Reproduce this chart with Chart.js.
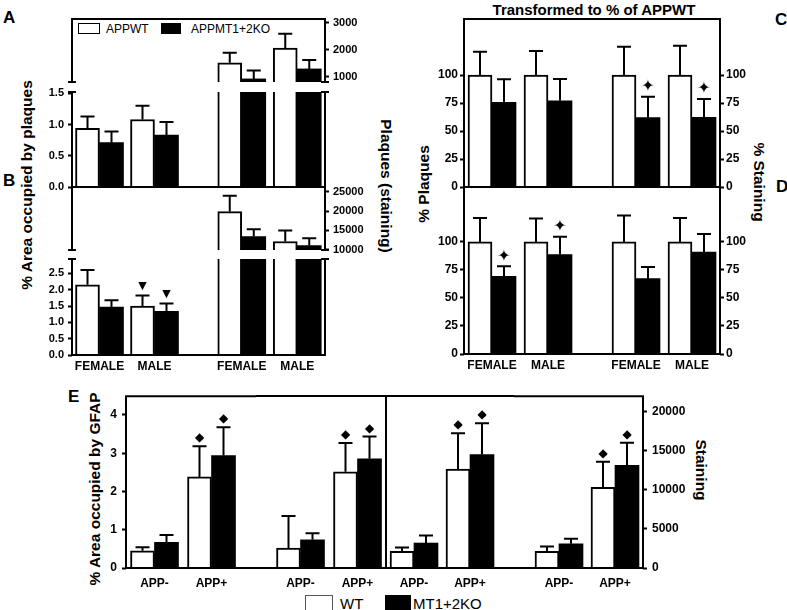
<!DOCTYPE html>
<html>
<head>
<meta charset="utf-8">
<script src="https://cdn.jsdelivr.net/npm/chart.js@4.4.1/dist/chart.umd.min.js"></script>
<style>
  body { margin: 0; background: #fff; }
  #fig { position: relative; width: 787px; height: 610px; overflow: hidden; font-family: 'Liberation Sans', Arial, sans-serif; color: #000; }
  #fig canvas { position: absolute; }
  .t { position: absolute; white-space: nowrap; line-height: 1; }
  .letter { font-weight: bold; font-size: 17px; }
  .yt { font-weight: bold; font-size: 15.5px; transform: translate(-50%, -50%) rotate(-90deg); }
  .yt.r { transform: translate(-50%, -50%) rotate(90deg); }
  .key { position: absolute; box-sizing: border-box; border: 1.5px solid #000; }
</style>
</head>
<body>
<div id="fig">
  <div class="t letter" style="left:3px;top:9px">A</div>
  <div class="t letter" style="left:3px;top:172px">B</div>
  <div class="t letter" style="left:775px;top:11px">C</div>
  <div class="t letter" style="left:776px;top:178px">D</div>
  <div class="t letter" style="left:68px;top:388px">E</div>

  <div class="t" style="left:594px;top:2px;font-weight:bold;font-size:15px;transform:translateX(-50%)">Transformed to % of APPWT</div>

  <div class="t yt" style="left:27px;top:185px">% Area occupied by plaques</div>
  <div class="t yt r" style="left:386px;top:186px">Plaques (staining)</div>
  <div class="t yt" style="left:424px;top:184px">% Plaques</div>
  <div class="t yt r" style="left:759px;top:182px">% Staining</div>
  <div class="t yt" style="left:95px;top:489px">% Area occupied by GFAP</div>
  <div class="t yt r" style="left:701px;top:470px">Staining</div>

  <div class="key" style="left:78px;top:23px;width:22px;height:11px;background:#fff"></div>
  <div class="t" style="left:106px;top:23px;font-size:12px">APPWT</div>
  <div class="key" style="left:161px;top:23px;width:20px;height:11px;background:#000"></div>
  <div class="t" style="left:191px;top:23px;font-size:12px">APPMT1+2KO</div>

  <div class="key" style="left:305px;top:595px;width:28px;height:16px;background:#fff;border-color:#555"></div>
  <div class="t" style="left:340px;top:596px;font-size:15px">WT</div>
  <div class="key" style="left:385px;top:595px;width:26px;height:16px;background:#000"></div>
  <div class="t" style="left:413px;top:596px;font-size:15px">MT1+2KO</div>
</div>
<script>
// categories
const sexes = ['FEMALE', 'MALE'];
const appStatus = ['APP-', 'APP+'];

// A: % area occupied by plaques (left block), plaques (right block)
const aAreaWT = [0.94, 1.08], aAreaWTsem = [0.19, 0.22];
const aAreaKO = [0.71, 0.83], aAreaKOsem = [0.18, 0.21];
const aCountWT = [1515, 2060], aCountWTsem = [370, 530];
const aCountKO = [915, 1285], aCountKOsem = [307, 333];

// B
const bAreaWT = [2.15, 1.50], bAreaWTsem = [0.45, 0.32];
const bAreaKO = [1.47, 1.34], bAreaKOsem = [0.21, 0.24];
const bAreaMarks = ['', '▼'];
const bStainWT = [19850, 12140], bStainWTsem = [4120, 2860];
const bStainKO = [13430, 11100], bStainKOsem = [1900, 1900];

// C: transformed to % of APPWT (from A)
const cPlaqWT = [100, 100], cPlaqWTsem = [20.8, 21.4];
const cPlaqKO = [75.6, 77.0], cPlaqKOsem = [20.5, 19.4];
const cStainWT = [100, 100], cStainWTsem = [25.3, 26.2];
const cStainKO = [61.9, 62.2], cStainKOsem = [18.7, 16.4];
const cStainMarks = ['✦', '✦'];

// D: transformed to % of APPWT (from B)
const dPlaqWT = [100, 100], dPlaqWTsem = [21.4, 21.0];
const dPlaqKO = [69.3, 88.7], dPlaqKOsem = [8.9, 16.0];
const dPlaqMarks = ['✦', '✦'];
const dStainWT = [100, 100], dStainWTsem = [23.5, 21.4];
const dStainKO = [67.2, 91.0], dStainKOsem = [10.5, 16.1];

// E: GFAP
const eArea1WT = [0.45, 2.38], eArea1WTsem = [0.09, 0.80];
const eArea1KO = [0.67, 2.94], eArea1KOsem = [0.19, 0.74];
const eArea2WT = [0.52, 2.51], eArea2WTsem = [0.84, 0.75];
const eArea2KO = [0.735, 2.85], eArea2KOsem = [0.175, 0.58];
const eStain1WT = [2117, 12628], eStain1WTsem = [511, 4591];
const eStain1KO = [3189, 14490], eStain1KOsem = [969, 4005];
const eStain2WT = [2117, 10332], eStain2WTsem = [638, 3265];
const eStain2KO = [3099, 13138], eStain2KOsem = [638, 2882];
const eMarks = ['', '◆'];

// tick labels
const aAreaTicks = [0, 0.5, 1.0, 1.5];
const aCountTicks = [1000, 1500, 2000, 2500, 3000];
const bAreaTicks = [0, 0.5, 1.0, 1.5, 2.0, 2.5];
const bStainTicks = [10000, 15000, 20000, 25000];
const pctTicks = [0, 25, 50, 75, 100];
const eAreaTicks = [0, 1, 2, 3, 4];
const eStainTicks = [0, 5000, 10000, 15000, 20000];

const fig = document.getElementById('fig');
const fontAB = { family: 'Liberation Sans', weight: 'bold', size: 11 };
const font12 = { family: 'Liberation Sans', weight: 'bold', size: 12 };
const oneDec = v => v.toFixed(1);
const markStyle = { '▼': [9, 11], '✦': [10, 16], '◆': [8, 12] };

function bar(values, sem, white, axisId, marks) {
  return {
    data: values, sem: sem, marks: marks || [], yAxisID: axisId,
    backgroundColor: white ? '#fff' : '#000', borderColor: '#000',
    borderWidth: white ? 2 : 0, borderSkipped: 'start', barThickness: 24, clip: 0
  };
}

function yScale(pos, ax, width) {
  const s = {
    type: 'linear', position: pos, min: ax.min, max: ax.max,
    afterFit: sc => { sc.width = width; },
    grid: { display: !!ax.ticks, drawOnChartArea: false, drawTicks: true, tickLength: 4, tickWidth: 2, tickColor: '#000' },
    border: { display: false },
    ticks: { display: !!ax.ticks, color: '#000', font: ax.font || fontAB, padding: ax.pad ?? 4, callback: ax.fmt || (v => String(v)) }
  };
  if (ax.ticks) s.afterBuildTicks = sc => { sc.ticks = ax.ticks.map(v => ({ value: v })); };
  return s;
}

const figPlugin = {
  id: 'fig',
  afterDatasetsDraw(chart) {
    const a = chart.chartArea, ctx = chart.ctx;
    ctx.save();
    ctx.beginPath();
    ctx.rect(a.left, a.top, a.right - a.left, a.bottom - a.top);
    ctx.clip();
    ctx.strokeStyle = '#000';
    ctx.fillStyle = '#000';
    ctx.lineWidth = 2;
    chart.data.datasets.forEach((ds, di) => {
      const ys = chart.scales[ds.yAxisID];
      chart.getDatasetMeta(di).data.forEach((el, i) => {
        const top = ys.getPixelForValue(ds.data[i]);
        const end = ys.getPixelForValue(ds.data[i] + ds.sem[i]);
        ctx.beginPath();
        ctx.moveTo(el.x, top); ctx.lineTo(el.x, end);
        ctx.moveTo(el.x - 7, end); ctx.lineTo(el.x + 7, end);
        ctx.stroke();
        const m = ds.marks[i];
        if (m) {
          const [off, size] = markStyle[m];
          ctx.font = size + 'px "DejaVu Sans"';
          ctx.textAlign = 'center';
          ctx.textBaseline = 'middle';
          ctx.fillText(m, el.x, end - off);
        }
      });
    });
    ctx.restore();
  },
  afterDraw(chart) {
    const p = chart.$spec, a = chart.chartArea, ctx = chart.ctx, f = p.frame;
    ctx.save();
    ctx.strokeStyle = '#000';
    ctx.lineWidth = 2;
    ctx.beginPath();
    const l = a.left - (f.extL || 0), r = a.right + (f.extR || 0);
    if (f.top) { ctx.moveTo(l, a.top); ctx.lineTo(r, a.top); }
    if (f.bottom) { ctx.moveTo(l, a.bottom); ctx.lineTo(r, a.bottom); }
    if (f.left) { ctx.moveTo(a.left, a.top - (f.top ? 1 : 0)); ctx.lineTo(a.left, a.bottom + (f.bottom ? 1 : 0)); }
    if (f.right) { ctx.moveTo(a.right, a.top - (f.top ? 1 : 0)); ctx.lineTo(a.right, a.bottom + (f.bottom ? 1 : 0)); }
    (p.caps || []).forEach(([side, end]) => {
      const x = side === 'left' ? a.left : a.right;
      const y = end === 'top' ? a.top : a.bottom;
      ctx.moveTo(x - 4, y); ctx.lineTo(x + 4, y);
    });
    ctx.stroke();
    ctx.restore();
  }
};

function addChart(p) {
  const ml = p.ml ?? 20, mr = p.mr ?? 20, mt = p.mt ?? 12, mb = p.mb ?? 12;
  const w = p.x1 - p.x0 + ml + mr, h = p.y1 - p.y0 + mt + mb;
  const cv = document.createElement('canvas');
  cv.width = w; cv.height = h;
  cv.style.left = (p.x0 - ml) + 'px';
  cv.style.top = (p.y0 - mt) + 'px';
  cv.style.width = w + 'px';
  cv.style.height = h + 'px';
  fig.appendChild(cv);

  const scales = {
    x: {
      type: 'category', offset: true,
      afterFit: sc => { sc.height = mb; },
      grid: { display: false, drawTicks: false }, border: { display: false },
      ticks: { display: !!p.showX, color: '#000', font: font12, padding: p.xPad ?? 4, maxRotation: 0, autoSkip: false }
    }
  };
  if (p.left) scales.yL = yScale('left', p.left, ml);
  if (p.right) scales.yR = yScale('right', p.right, mr);

  return new Chart(cv, {
    type: 'bar',
    data: { labels: p.labels, datasets: p.sets },
    options: {
      responsive: false, animation: false, events: [],
      layout: { padding: { top: mt, bottom: 0, left: p.left ? 0 : ml, right: p.right ? 0 : mr } },
      plugins: { legend: { display: false }, tooltip: { enabled: false } },
      scales: scales
    },
    plugins: [{ id: 'spec', beforeInit(c) { c.$spec = p; } }, figPlugin]
  });
}

// ---- Panel A (upper segment / lower segment, left block / right block)
addChart({ x0: 72, x1: 182, y0: 19, y1: 82, labels: sexes, mr: 20,
  left: { min: 1.6, max: 3 }, caps: [['left', 'bottom']],
  frame: { top: true, left: true, extR: 16 },
  sets: [bar(aAreaWT, aAreaWTsem, true, 'yL'), bar(aAreaKO, aAreaKOsem, false, 'yL')] });
addChart({ x0: 214, x1: 325, y0: 19, y1: 82, labels: sexes, ml: 20, mr: 45,
  right: { min: 800, max: 3135, ticks: aCountTicks }, caps: [['right', 'bottom']],
  frame: { top: true, right: true, extL: 16 },
  sets: [bar(aCountWT, aCountWTsem, true, 'yR'), bar(aCountKO, aCountKOsem, false, 'yR')] });
addChart({ x0: 72, x1: 182, y0: 92, y1: 187, labels: sexes, ml: 45,
  left: { min: 0, max: 1.52, ticks: aAreaTicks, fmt: oneDec }, caps: [['left', 'top']],
  frame: { bottom: true, left: true, extR: 16 },
  sets: [bar(aAreaWT, aAreaWTsem, true, 'yL'), bar(aAreaKO, aAreaKOsem, false, 'yL')] });
addChart({ x0: 214, x1: 325, y0: 92, y1: 187, labels: sexes,
  right: { min: 0, max: 800 }, caps: [['right', 'top']],
  frame: { bottom: true, right: true, extL: 16 },
  sets: [bar(aCountWT, aCountWTsem, true, 'yR'), bar(aCountKO, aCountKOsem, false, 'yR')] });

// ---- Panel B
addChart({ x0: 72, x1: 182, y0: 187, y1: 250, labels: sexes,
  left: { min: 3, max: 5 }, caps: [['left', 'bottom']],
  frame: { top: true, left: true, extR: 16 },
  sets: [bar(bAreaWT, bAreaWTsem, true, 'yL'), bar(bAreaKO, bAreaKOsem, false, 'yL')] });
addChart({ x0: 214, x1: 325, y0: 187, y1: 250, labels: sexes, mr: 45,
  right: { min: 9950, max: 26200, ticks: bStainTicks }, caps: [['right', 'bottom']],
  frame: { top: true, right: true, extL: 16 },
  sets: [bar(bStainWT, bStainWTsem, true, 'yR'), bar(bStainKO, bStainKOsem, false, 'yR')] });
addChart({ x0: 72, x1: 182, y0: 259, y1: 355, labels: sexes, ml: 45, mb: 24, showX: true,
  left: { min: 0, max: 2.94, ticks: bAreaTicks, fmt: oneDec }, caps: [['left', 'top']],
  frame: { bottom: true, left: true, extR: 16 },
  sets: [bar(bAreaWT, bAreaWTsem, true, 'yL', bAreaMarks), bar(bAreaKO, bAreaKOsem, false, 'yL', bAreaMarks)] });
addChart({ x0: 214, x1: 325, y0: 259, y1: 355, labels: sexes, mb: 24, showX: true,
  right: { min: 0, max: 9950 }, caps: [['right', 'top']],
  frame: { bottom: true, right: true, extL: 16 },
  sets: [bar(bStainWT, bStainWTsem, true, 'yR'), bar(bStainKO, bStainKOsem, false, 'yR')] });

// ---- Panels C and D
addChart({ x0: 464, x1: 576, y0: 19, y1: 187, labels: sexes, ml: 40,
  left: { min: 0, max: 150, ticks: pctTicks, font: font12, pad: 2 },
  frame: { top: true, bottom: true, left: true, extR: 16 },
  sets: [bar(cPlaqWT, cPlaqWTsem, true, 'yL'), bar(cPlaqKO, cPlaqKOsem, false, 'yL')] });
addChart({ x0: 608, x1: 720, y0: 19, y1: 187, labels: sexes, mr: 40,
  right: { min: 0, max: 150, ticks: pctTicks, font: font12, pad: 2 },
  frame: { top: true, bottom: true, right: true, extL: 16 },
  sets: [bar(cStainWT, cStainWTsem, true, 'yR'), bar(cStainKO, cStainKOsem, false, 'yR', cStainMarks)] });
addChart({ x0: 464, x1: 576, y0: 187, y1: 354, labels: sexes, ml: 40, mb: 24, showX: true,
  left: { min: 0, max: 149, ticks: pctTicks, font: font12, pad: 2 },
  frame: { top: true, bottom: true, left: true, extR: 16 },
  sets: [bar(dPlaqWT, dPlaqWTsem, true, 'yL'), bar(dPlaqKO, dPlaqKOsem, false, 'yL', dPlaqMarks)] });
addChart({ x0: 608, x1: 720, y0: 187, y1: 354, labels: sexes, mr: 40, mb: 24, showX: true,
  right: { min: 0, max: 149, ticks: pctTicks, font: font12, pad: 2 },
  frame: { top: true, bottom: true, right: true, extL: 16 },
  sets: [bar(dStainWT, dStainWTsem, true, 'yR'), bar(dStainKO, dStainKOsem, false, 'yR')] });

// ---- Panel E
addChart({ x0: 126, x1: 240, y0: 396, y1: 568, labels: appStatus, ml: 30, mb: 24, showX: true, xPad: 8,
  left: { min: 0, max: 4.49, ticks: eAreaTicks, font: font12, pad: 5 },
  frame: { top: true, bottom: true, left: true, extR: 16 },
  sets: [bar(eArea1WT, eArea1WTsem, true, 'yL', eMarks), bar(eArea1KO, eArea1KOsem, false, 'yL', eMarks)] });
addChart({ x0: 272, x1: 386, y0: 396, y1: 568, labels: appStatus, mb: 24, showX: true, xPad: 8,
  right: { min: 0, max: 4.49 },
  frame: { top: true, bottom: true, right: true, extL: 16 },
  sets: [bar(eArea2WT, eArea2WTsem, true, 'yR', eMarks), bar(eArea2KO, eArea2KOsem, false, 'yR', eMarks)] });
addChart({ x0: 386, x1: 498, y0: 396, y1: 568, labels: appStatus, mb: 24, showX: true, xPad: 8,
  left: { min: 0, max: 21980 },
  frame: { top: true, bottom: true, left: true, extR: 16 },
  sets: [bar(eStain1WT, eStain1WTsem, true, 'yL', eMarks), bar(eStain1KO, eStain1KOsem, false, 'yL', eMarks)] });
addChart({ x0: 531, x1: 643, y0: 396, y1: 568, labels: appStatus, mr: 50, mb: 24, showX: true, xPad: 8,
  right: { min: 0, max: 21980, ticks: eStainTicks, font: font12, pad: 5 },
  frame: { top: true, bottom: true, right: true, extL: 17 },
  sets: [bar(eStain2WT, eStain2WTsem, true, 'yR', eMarks), bar(eStain2KO, eStain2KOsem, false, 'yR', eMarks)] });
</script>
</body>
</html>
